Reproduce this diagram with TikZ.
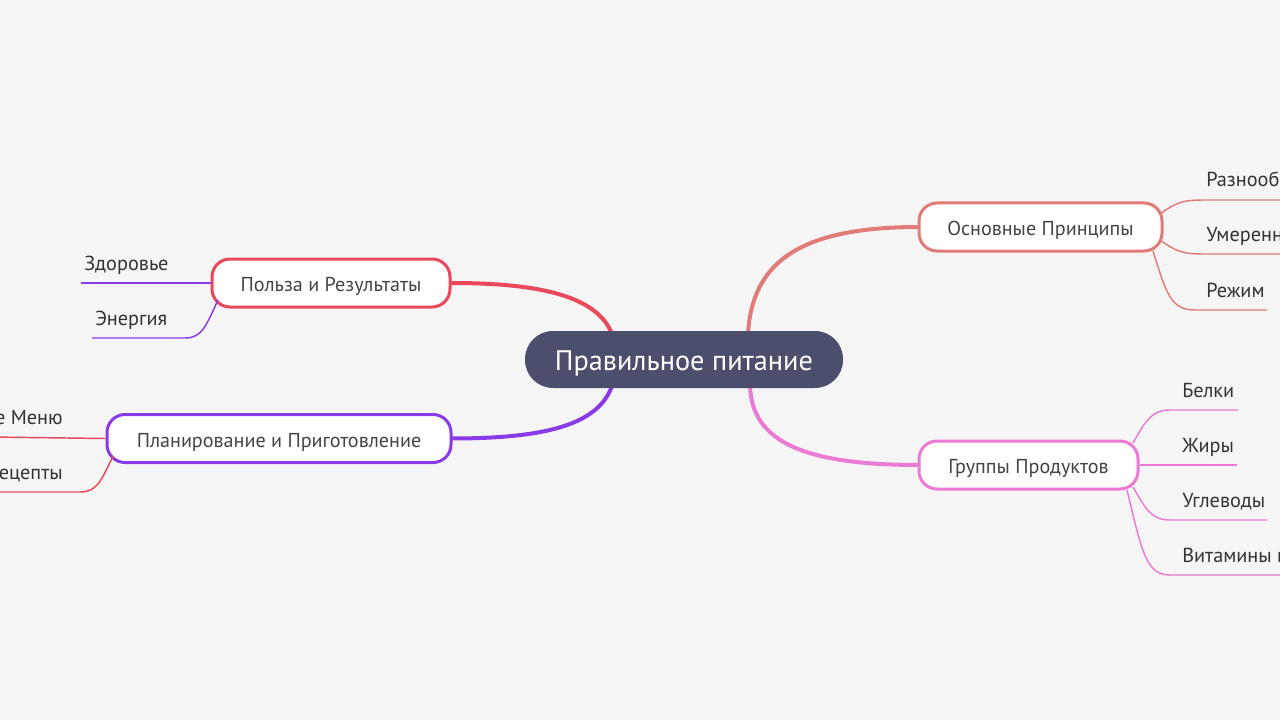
\documentclass[tikz,border=0pt]{standalone}
\usepackage{fontspec}
\setmainfont{PT Sans}
\definecolor{bgc}{HTML}{F5F5F5}
\definecolor{cen}{HTML}{4B4F6B}
\definecolor{csal}{HTML}{E07B78}
\definecolor{cpink}{HTML}{EA7AD3}
\definecolor{cred}{HTML}{E8485A}
\definecolor{cpur}{HTML}{8A3BE8}
\definecolor{txt}{HTML}{333333}
\definecolor{subtxt}{HTML}{444444}
\tikzset{
  sub/.style={draw=#1, line width=2.25pt, fill=white, rounded corners=13.5pt, minimum height=36pt, inner sep=0pt, text height=13.4pt, text depth=0pt, text=subtxt, font=\fontsize{15.1}{18}\selectfont},
  leaf/.style={text=txt, font=\fontsize{15.2}{18}\selectfont, inner sep=0pt},
  branch/.style={draw=#1, line width=3pt, line cap=round},
  twig/.style={draw=#1, line width=1.1pt},
}
\begin{document}
\begin{tikzpicture}[x=0.75pt,y=-0.75pt]
\fill[bgc] (0,0) rectangle (1280,720);
\useasboundingbox (0,0) rectangle (1280,720);
\begin{scope}
\clip (0,0) rectangle (1280,720);
\coordinate (c1) at (612,334);
\coordinate (c2) at (748,334);
\coordinate (c3) at (750,386);
\coordinate (c4) at (612,386);
\coordinate (op) at (1040.5,227);
\coordinate (gp) at (1028.5,465);
\coordinate (pr) at (331,283);
\coordinate (pp) at (279,438.5);
% main branches (drawn first, under nodes)
\draw[branch=cred] (c1) .. controls (598,298) and (545,283) .. (452,283);
\draw[branch=csal] (c2) .. controls (752,262) and (800,227) .. (919,227);
\draw[branch=cpink] (c3) .. controls (752,440) and (800,465) .. (919,465);
\draw[branch=cpur] (c4) .. controls (598,425) and (545,438.5) .. (451,438.5);
% subtopic nodes
\node[sub=csal, minimum width=182.25pt] (opn) at (op) {Основные Принципы};
\node[sub=cpink, minimum width=164.25pt] (gpn) at (gp) {Группы Продуктов};
\node[sub=cred, minimum width=178.5pt] (prn) at (pr) {Польза и Результаты};
\node[sub=cpur, minimum width=258pt] (ppn) at (pp) {Планирование и Приготовление};
\node[fill=cen, rounded corners=21pt, minimum width=238.5pt, minimum height=42.75pt, inner sep=0pt, text height=17pt, text depth=0pt, text=white, font=\fontsize{21.2}{25}\selectfont] (center) at (684,359.5) {Правильное питание};
% leaves of Основные Принципы
\node[leaf, anchor=base west] (l1) at (1206,187) {Разнообразие};
\node[leaf, anchor=base west] (l2) at (1206,242) {Умеренность};
\node[leaf, anchor=base west] (l3) at (1206,297) {Режим};
\coordinate (e1) at (1300,200);
\coordinate (e2) at (1300,254);
\coordinate (e3) at (1267,310);
\draw[twig=csal] (1160,214) .. controls (1178,201) and (1185,200) .. (1205,200) -- (e1);
\draw[twig=csal] (1160,240) .. controls (1178,253) and (1185,254) .. (1205,254) -- (e2);
\draw[twig=csal] (1153,251) .. controls (1166,292) and (1170,310) .. (1195,310) -- (e3);
% leaves of Группы Продуктов
\node[leaf, anchor=base west] (g1) at (1182,397) {Белки};
\node[leaf, anchor=base west] (g2) at (1182,452) {Жиры};
\node[leaf, anchor=base west] (g3) at (1182,507) {Углеводы};
\node[leaf, anchor=base west] (g4) at (1182,562) {Витамины и минералы};
\coordinate (f1) at (1238,410);
\coordinate (f2) at (1237,465);
\coordinate (f3) at (1267,520);
\coordinate (f4) at (1300,575);
\draw[twig=cpink] (1133,443) .. controls (1146,420) and (1152,410) .. (1170,410) -- (f1);
\draw[twig=cpink] (gpn.east) -- (f2);
\draw[twig=cpink] (1133,487) .. controls (1146,510) and (1152,520) .. (1170,520) -- (f3);
\draw[twig=cpink] (1127,490) .. controls (1142,552) and (1146,575) .. (1170,575) -- (f4);
% leaves of Польза и Результаты
\node[leaf, anchor=base west] (p1) at (84,270) {Здоровье};
\node[leaf, anchor=base west] (p2) at (95,325) {Энергия};
\coordinate (h1) at (81,283);
\coordinate (h2) at (92,338);
\draw[twig=cpur] (prn.west) -- (h1);
\draw[twig=cpur] (218,300) .. controls (206,326) and (202,338) .. (185,338) -- (h2);
% leaves of Планирование и Приготовление
\node[leaf, anchor=base east] (q1) at (63,424) {Составление Меню};
\node[leaf, anchor=base east] (q2) at (63,479) {Полезные Рецепты};
\coordinate (k1) at (-10,437);
\coordinate (k2) at (-10,492);
\draw[twig=cred] (ppn.west) -- (k1);
\draw[twig=cred] (113,456) .. controls (101,481) and (97,492) .. (80,492) -- (k2);
\end{scope}
\end{tikzpicture}
\end{document}
